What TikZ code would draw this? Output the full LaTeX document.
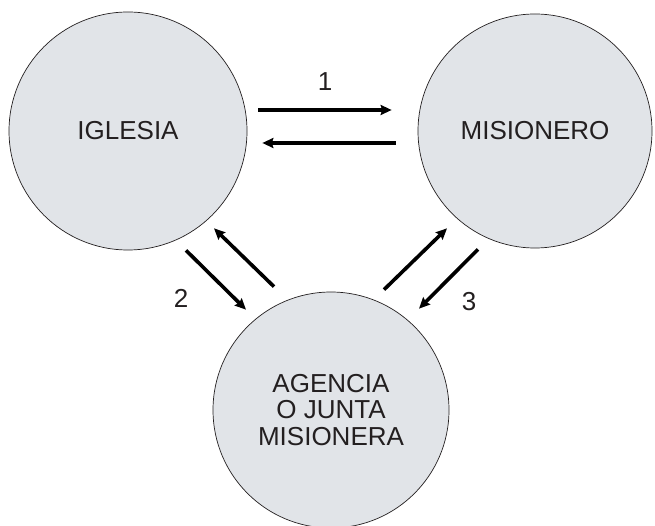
\documentclass[tikz,border=0pt]{standalone}
\usepackage{fontspec}
\setmainfont{Liberation Sans}
\usepackage{tikz}
\usetikzlibrary{arrows.meta,calc,positioning,shapes}
\definecolor{discfill}{RGB}{225,228,232}
\definecolor{inktext}{RGB}{35,31,32}

\begin{document}
\begin{tikzpicture}[x=1pt,y=-1pt,font=\fontsize{26}{26.5}\selectfont,every node/.style={text=inktext},every text node part/.style={align=center},disc/.style={circle,draw=inktext,line width=0.7pt,fill=discfill,inner sep=0pt},flow/.style={line width=3.6pt,-{Stealth[length=11pt,width=10pt,inset=1.5pt]}}]
	\useasboundingbox (0,0) rectangle (655,526);

	\node (iglesia) at (128,131) [disc,minimum size=238pt] {IGLESIA};
	\node (misionero) at (535,131) [disc,minimum size=234pt] {MISIONERO};
	\node (agencia) at (331,410) [disc,minimum size=236pt] {AGENCIA\\O JUNTA\\MISIONERA};

	\coordinate (a1) at ($(iglesia.east)+(11,-21)$);
	\coordinate (b1) at ($(misionero.west)+(-26,-21)$);
	\coordinate (a2) at ($(iglesia.east)+(15,12)$);
	\coordinate (b2) at ($(misionero.west)+(-22,12)$);
	\draw[flow] (a1) -- (b1);
	\draw[flow] (b2) -- (a2);

	\coordinate (c1) at ($(iglesia.south)+(58,0)$);
	\coordinate (d1) at ($(agencia.north)+(-85,18)$);
	\coordinate (c2) at ($(iglesia.south)+(86,-22)$);
	\coordinate (d2) at ($(agencia.north)+(-57,-5)$);
	\draw[flow] (c1) -- (d1);
	\draw[flow] (d2) -- (c2);

	\coordinate (e1) at ($(agencia.north)+(53,-2)$);
	\coordinate (f1) at ($(misionero.south)+(-88,-20)$);
	\coordinate (e2) at ($(agencia.north)+(88,17)$);
	\coordinate (f2) at ($(misionero.south)+(-57,1)$);
	\draw[flow] (e1) -- (f1);
	\draw[flow] (f2) -- (e2);

	\node (n1) at (325,82) {1};
	\node (n2) at (181,298) {2};
	\node (n3) at (469,302) {3};
\end{tikzpicture}
\end{document}
